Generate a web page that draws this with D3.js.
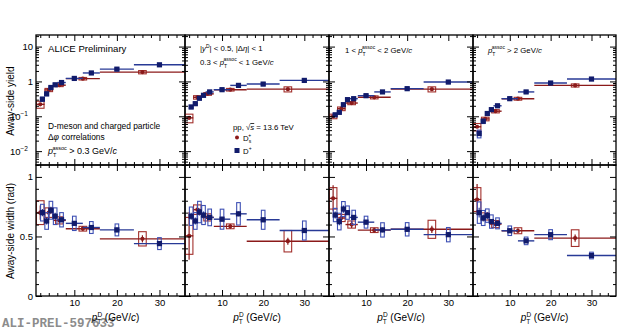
<!DOCTYPE html>
<html>
<head>
<meta charset="utf-8">
<script src="https://cdn.jsdelivr.net/npm/d3@7"></script>
<style>
  body { margin: 0; background: #fff; }
  svg { display: block; font-family: "Liberation Sans", Arial, sans-serif; }
</style>
</head>
<body>
<div id="chart"></div>
<script>
// pT bins of the trigger D mesons (GeV/c)
var dplusPt = [2.5, 3.5, 4.5, 5.5, 7, 10, 14, 20, 30];
var dplusHalf = [0.5, 0.5, 0.5, 0.5, 1, 2, 2, 4, 6];
var dsPt = [2, 4, 6.5, 12, 26];
var dsHalf = [1, 1, 1.5, 4, 10];

// one row per associated-pT range: >0.3, 0.3-1, 1-2, >2 GeV/c
var dplusYield = [
  [0.31, 0.44, 0.67, 0.80, 0.93, 1.22, 1.75, 2.25, 3.0],
  [0.185, 0.23, 0.33, 0.40, 0.50, 0.58, 0.77, 0.84, 1.07],
  [0.11, 0.13, 0.215, 0.30, 0.32, 0.39, 0.50, 0.62, 0.96],
  [0.032, 0.072, 0.12, 0.155, 0.20, 0.32, 0.50, 0.90, 1.17]
];
var dplusYieldSys = [
  [0.04, 0.05, 0.07, 0.08, 0.09, 0.11, 0.16, 0.20, 0.28],
  [0.02, 0.025, 0.035, 0.04, 0.05, 0.05, 0.07, 0.08, 0.10],
  [0.012, 0.014, 0.02, 0.03, 0.03, 0.035, 0.045, 0.055, 0.09],
  [0.008, 0.01, 0.014, 0.016, 0.02, 0.03, 0.045, 0.08, 0.10]
];
var dsYield = [
  [0.22, 0.57, 0.78, 1.2, 1.85],
  [0.09, 0.35, 0.44, 0.58, 0.60],
  [0.10, 0.165, 0.24, 0.35, 0.60],
  [0.05, 0.084, 0.14, 0.32, 0.77]
];
var dsYieldSys = [
  [0.05, 0.06, 0.07, 0.10, 0.20],
  [0.025, 0.04, 0.04, 0.05, 0.10],
  [0.015, 0.02, 0.025, 0.035, 0.10],
  [0.012, 0.01, 0.015, 0.03, 0.08]
];

var dplusWidth = [
  [0.70, 0.63, 0.72, 0.67, 0.64, 0.61, 0.575, 0.555, 0.44],
  [0.67, 0.63, 0.705, 0.68, 0.66, 0.645, 0.69, 0.64, 0.55],
  [0.68, 0.625, 0.73, 0.70, 0.66, 0.62, 0.555, 0.56, 0.515],
  [0.70, 0.655, 0.675, 0.625, 0.61, 0.548, 0.463, 0.515, 0.34]
];
var dplusWidthStat = [
  [0.03, 0.03, 0.03, 0.03, 0.02, 0.02, 0.02, 0.02, 0.02],
  [0.03, 0.03, 0.03, 0.03, 0.02, 0.02, 0.02, 0.02, 0.02],
  [0.03, 0.03, 0.03, 0.02, 0.02, 0.02, 0.02, 0.02, 0.02],
  [0.04, 0.03, 0.03, 0.02, 0.02, 0.02, 0.01, 0.01, 0.01]
];
var dplusWidthSys = [
  [0.07, 0.07, 0.075, 0.07, 0.06, 0.06, 0.05, 0.05, 0.05],
  [0.077, 0.07, 0.09, 0.08, 0.07, 0.084, 0.094, 0.08, 0.08],
  [0.056, 0.07, 0.063, 0.056, 0.06, 0.05, 0.06, 0.056, 0.06],
  [0.09, 0.063, 0.056, 0.056, 0.046, 0.04, 0.032, 0.042, 0.028]
];
var dsWidth = [
  [0.70, 0.70, 0.635, 0.565, 0.48],
  [0.505, 0.725, 0.66, 0.585, 0.46],
  [0.82, 0.655, 0.60, 0.553, 0.56],
  [0.81, 0.668, 0.604, 0.548, 0.486]
];
var dsWidthStat = [
  [0.06, 0.04, 0.03, 0.02, 0.03],
  [0.2, 0.04, 0.03, 0.02, 0.03],
  [0.11, 0.04, 0.03, 0.02, 0.03],
  [0.13, 0.04, 0.03, 0.02, 0.03]
];
var dsWidthSys = [
  [0.1, 0.04, 0.03, 0.02, 0.06],
  [0.155, 0.04, 0.03, 0.02, 0.09],
  [0.09, 0.03, 0.03, 0.02, 0.076],
  [0.1, 0.03, 0.03, 0.025, 0.07]
];

var xTicks = [10, 20, 30];
var widthTicks = [0, 0.5, 1];
var yieldTicks = [0.01, 0.1, 1, 10];

var svgWidth = 620;
var svgHeight = 331;

// frame edges of the four columns and two rows
var colEdges = [36, 185, 329, 473, 616];
var topRow = [35, 165];
var botRow = [165, 296];

var red = { mark: "#8b1a1a", line: "#8b1a1a", box: "#a3302c" };
var blue = { mark: "#111b6b", line: "#283a96", box: "#3e50b4" };

var svg = d3.select("#chart")
  .append("svg")
  .attr("width", svgWidth)
  .attr("height", svgHeight);

var yYield = d3.scaleLog().domain([0.004, 21.5]).range([topRow[1], topRow[0]]);
var yWidth = d3.scaleLinear().domain([0, 1.1]).range([botRow[1], botRow[0]]);

// minor ticks for the log axis
var logMinor = [];
[0.001, 0.01, 0.1, 1, 10].forEach(function(dec) {
  for (var k = 2; k <= 9; k++) {
    var v = dec * k;
    if (v >= 0.004 && v <= 21.5) logMinor.push(v);
  }
});
var xMinor = d3.range(2, 36, 2).filter(function(v) { return v % 10 !== 0; });
var widthMinor = d3.range(0.1, 1.1, 0.1).filter(function(v) { return Math.abs(v - 0.5) > 0.01 && Math.abs(v - 1) > 0.01; });

function tickAxis(g, axis, vals, len, transform, fmt) {
  var a = axis.tickValues(vals).tickSize(-len).tickPadding(3)
    .tickFormat(fmt || function() { return ""; });
  var ag = g.append("g").attr("transform", transform).call(a);
  ag.select(".domain").remove();
  ag.selectAll("line").attr("stroke", "#000").attr("stroke-width", 1);
  ag.selectAll("text").attr("font-size", 9.5).attr("fill", "#000")
    .attr("font-family", "Liberation Sans, Arial, sans-serif");
  return ag;
}

function richText(parent, x, y, size, parts, anchor) {
  var t = parent.append("text")
    .attr("x", x).attr("y", y)
    .attr("font-size", size)
    .attr("text-anchor", anchor || "start")
    .attr("fill", "#000");
  parts.forEach(function(p) {
    var s = t.append("tspan").text(p.t);
    if (p.it) s.attr("font-style", "italic");
    if (p.dy) s.attr("dy", p.dy);
    if (p.dx) s.attr("dx", p.dx);
    if (p.fs) s.attr("font-size", p.fs);
    if (p.over) s.attr("text-decoration", "overline");
  });
  return t;
}

function drawSeries(g, x, y, pts, half, vals, stat, sys, col, boxW, marker) {
  var data = pts.map(function(p, i) {
    return { x: p, h: half[i], v: vals[i], st: stat ? stat[i] : 0, sy: sys[i] };
  });
  g.selectAll(null).data(data).enter().append("rect")
    .attr("x", function(d) { return x(d.x) - boxW / 2; })
    .attr("width", boxW)
    .attr("y", function(d) { return y(d.v + d.sy); })
    .attr("height", function(d) { return y(d.v - d.sy) - y(d.v + d.sy); })
    .attr("fill", "none")
    .attr("stroke", col.box)
    .attr("stroke-width", 1.1);
  g.selectAll(null).data(data).enter().append("line")
    .attr("x1", function(d) { return x(d.x - d.h); })
    .attr("x2", function(d) { return x(d.x + d.h); })
    .attr("y1", function(d) { return y(d.v); })
    .attr("y2", function(d) { return y(d.v); })
    .attr("stroke", col.line)
    .attr("stroke-width", 1.4);
  g.selectAll(null).data(data.filter(function(d) { return d.st > 0; })).enter().append("line")
    .attr("x1", function(d) { return x(d.x); })
    .attr("x2", function(d) { return x(d.x); })
    .attr("y1", function(d) { return y(d.v + d.st); })
    .attr("y2", function(d) { return y(d.v - d.st); })
    .attr("stroke", col.line)
    .attr("stroke-width", 1.2);
  if (marker === "square") {
    g.selectAll(null).data(data).enter().append("rect")
      .attr("x", function(d) { return x(d.x) - 2.6; })
      .attr("y", function(d) { return y(d.v) - 2.6; })
      .attr("width", 5.2).attr("height", 5.2)
      .attr("fill", col.mark);
  } else {
    g.selectAll(null).data(data).enter().append("circle")
      .attr("cx", function(d) { return x(d.x); })
      .attr("cy", function(d) { return y(d.v); })
      .attr("r", 2.1)
      .attr("fill", col.mark);
  }
}

for (var p = 0; p < 4; p++) {
  var x0 = colEdges[p], x1 = colEdges[p + 1];
  var x = d3.scaleLinear().domain([1, 36]).range([x0, x1]);
  var g = svg.append("g");

  svg.append("clipPath").attr("id", "clipTop" + p).append("rect")
    .attr("x", x0).attr("y", topRow[0]).attr("width", x1 - x0).attr("height", topRow[1] - topRow[0]);
  svg.append("clipPath").attr("id", "clipBot" + p).append("rect")
    .attr("x", x0).attr("y", botRow[0]).attr("width", x1 - x0).attr("height", botRow[1] - botRow[0]);

  // yields (top row)
  var gt = g.append("g").attr("clip-path", "url(#clipTop" + p + ")");
  drawSeries(gt, x, yYield, dsPt, dsHalf, dsYield[p], null, dsYieldSys[p], red, 7.6, "circle");
  drawSeries(gt, x, yYield, dplusPt, dplusHalf, dplusYield[p], null, dplusYieldSys[p], blue, 3.6, "square");

  // widths (bottom row)
  var gb = g.append("g").attr("clip-path", "url(#clipBot" + p + ")");
  drawSeries(gb, x, yWidth, dsPt, dsHalf, dsWidth[p], dsWidthStat[p], dsWidthSys[p], red, 7.6, "circle");
  drawSeries(gb, x, yWidth, dplusPt, dplusHalf, dplusWidth[p], dplusWidthStat[p], dplusWidthSys[p], blue, 3.6, "square");

  // frames
  [topRow, botRow].forEach(function(r) {
    g.append("rect")
      .attr("x", x0).attr("y", r[0])
      .attr("width", x1 - x0).attr("height", r[1] - r[0])
      .attr("fill", "none").attr("stroke", "#000").attr("stroke-width", 1.3);
  });

  // x ticks on both rows, all inward
  [topRow, botRow].forEach(function(r, ri) {
    tickAxis(g, d3.axisTop(x), xMinor, 3, "translate(0," + r[0] + ")");
    tickAxis(g, d3.axisTop(x), xTicks, 6, "translate(0," + r[0] + ")");
    tickAxis(g, d3.axisBottom(x), xMinor, 3, "translate(0," + r[1] + ")");
    tickAxis(g, d3.axisBottom(x), xTicks, 6, "translate(0," + r[1] + ")",
      ri === 1 ? d3.format("d") : null);
  });

  // log y ticks
  tickAxis(g, d3.axisLeft(yYield), logMinor, 3, "translate(" + x0 + ",0)");
  var la = tickAxis(g, d3.axisLeft(yYield), yieldTicks, 6, "translate(" + x0 + ",0)",
    p === 0 ? function(v) { return v >= 1 ? String(v) : "10"; } : null);
  if (p === 0) {
    la.selectAll("text").each(function(v) {
      if (v < 1) {
        d3.select(this).attr("dx", -5)
          .append("tspan").attr("dy", -4).attr("font-size", 6.5)
          .text(v === 0.1 ? "\u22121" : "\u22122");
      }
    });
  }
  tickAxis(g, d3.axisRight(yYield), logMinor, 3, "translate(" + x1 + ",0)");
  tickAxis(g, d3.axisRight(yYield), yieldTicks, 6, "translate(" + x1 + ",0)");

  // width y ticks
  tickAxis(g, d3.axisLeft(yWidth), widthMinor, 3, "translate(" + x0 + ",0)");
  tickAxis(g, d3.axisLeft(yWidth), widthTicks, 6, "translate(" + x0 + ",0)",
    p === 0 ? function(v) { return String(v); } : null);
  tickAxis(g, d3.axisRight(yWidth), widthMinor, 3, "translate(" + x1 + ",0)");
  tickAxis(g, d3.axisRight(yWidth), widthTicks, 6, "translate(" + x1 + ",0)");
}

// preliminary id
svg.append("text")
  .attr("x", 2).attr("y", 327)
  .attr("font-family", "Liberation Mono, monospace")
  .attr("font-weight", "bold")
  .attr("font-size", 12.5)
  .attr("fill", "#8c8c8c")
  .text("ALI-PREL-597633");

// x titles
for (var q = 0; q < 4; q++) {
  var cx = (colEdges[q] + colEdges[q + 1]) / 2 + (q === 0 ? 5 : 0);
  richText(svg, cx, 321, 10, [
    { t: "p", it: true },
    { t: "T", fs: 6.5, dy: 2.5 },
    { t: "D", fs: 6.5, dy: -7, dx: -3.8 },
    { t: " (GeV/", dy: 4.5 },
    { t: "c", it: true },
    { t: ")" }
  ], "middle");
}

// y titles
svg.append("text")
  .attr("transform", "translate(14,101) rotate(-90)")
  .attr("text-anchor", "middle").attr("font-size", 10)
  .text("Away-side yield");
svg.append("text")
  .attr("transform", "translate(14,231) rotate(-90)")
  .attr("text-anchor", "middle").attr("font-size", 10)
  .text("Away-side width (rad)");

// panel annotations
svg.append("text").attr("x", 48).attr("y", 52).attr("font-size", 9.6).text("ALICE Preliminary");
svg.append("text").attr("x", 48).attr("y", 129).attr("font-size", 8.4).text("D-meson and charged particle");
richText(svg, 48, 140, 8.4, [{ t: "\u0394" }, { t: "\u03c6", it: true }, { t: " correlations" }]);
richText(svg, 48, 154, 9, [
  { t: "p", it: true }, { t: "T", fs: 5.5, dy: 2.5 }, { t: "assoc", fs: 5.5, dy: -7, dx: -3.3 },
  { t: " > 0.3 GeV/", dy: 4.5 }, { t: "c", it: true }
]);

richText(svg, 200, 51, 7.8, [
  { t: "|" }, { t: "y", it: true }, { t: "D", fs: 5, dy: -3.5 }, { t: "| < 0.5, |\u0394", dy: 3.5 },
  { t: "\u03b7", it: true }, { t: "| < 1" }
]);
richText(svg, 200, 65, 7.8, [
  { t: "0.3 <  " }, { t: "p", it: true }, { t: "T", fs: 5, dy: 2.5 }, { t: "assoc", fs: 5, dy: -6.5, dx: -3 },
  { t: " < 1 GeV/", dy: 4 }, { t: "c", it: true }
]);
richText(svg, 345, 53, 7.8, [
  { t: "1 <  " }, { t: "p", it: true }, { t: "T", fs: 5, dy: 2.5 }, { t: "assoc", fs: 5, dy: -6.5, dx: -3 },
  { t: " < 2 GeV/", dy: 4 }, { t: "c", it: true }
]);
richText(svg, 488, 53, 7.8, [
  { t: "p", it: true }, { t: "T", fs: 5, dy: 2.5 }, { t: "assoc", fs: 5, dy: -6.5, dx: -3 },
  { t: " > 2 GeV/", dy: 4 }, { t: "c", it: true }
]);

// legend
richText(svg, 233, 130, 7.8, [{ t: "pp,  \u221a" }, { t: "s", it: true, over: true }, { t: " = 13.6 TeV" }]);
svg.append("circle").attr("cx", 237).attr("cy", 137.5).attr("r", 2).attr("fill", red.mark);
richText(svg, 243, 140.5, 7.8, [{ t: "D" }, { t: "s", fs: 5, dy: 2 }, { t: "+", fs: 5, dy: -5.5, dx: -2.8 }]);
svg.append("rect").attr("x", 234.5).attr("y", 148).attr("width", 5).attr("height", 5).attr("fill", blue.mark);
richText(svg, 243, 153.5, 7.8, [{ t: "D" }, { t: "+", fs: 5, dy: -3.5 }]);
</script>
</body>
</html>
